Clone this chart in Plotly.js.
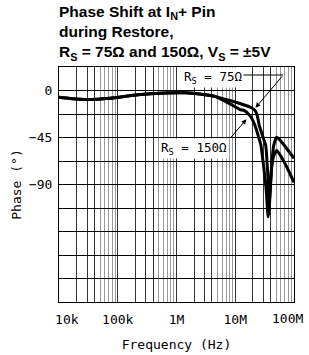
<!DOCTYPE html>
<html>
<head>
<meta charset="utf-8">
<script src="https://cdn.plot.ly/plotly-3.0.1.min.js"></script>
<style>html,body{margin:0;padding:0;background:#fff;}#chart{width:309px;height:355px;}</style>
</head>
<body>
<div id="chart"></div>
<script>
// Frequency (Hz) and phase (degrees)
const freq75   = [1e4, 1.54e4, 3e4, 7.4e4, 2.21e5, 6.37e5, 1.4e6, 2.8e6, 4.5e6, 8.15e6, 1.2e7, 1.78e7, 2.17e7, 2.37e7, 2.56e7, 3.3e7, 3.4e7, 3.68e7, 3.75e7, 3.9e7, 4.17e7, 4.5e7, 5.07e7, 5.7e7, 7.5e7, 1e8];
const phase75  = [-6.4, -7.6, -8.6, -7.4, -4.0, -2.4, -2.2, -3.8, -5.6, -9.6, -12.4, -15.8, -19, -24, -33.5, -52.6, -60, -93, -118, -100, -72, -53, -44.7, -47, -55.5, -65];
const freq150  = [1e4, 1.54e4, 3e4, 7.4e4, 2.21e5, 6.37e5, 1.4e6, 2.8e6, 4.5e6, 8.15e6, 1.2e7, 1.41e7, 1.78e7, 2.17e7, 2.74e7, 2.85e7, 3.34e7, 3.63e7, 3.9e7, 4.17e7, 4.5e7, 5.07e7, 5.7e7, 7.5e7, 1e8];
const phase150 = [-6.4, -7.6, -8.6, -7.4, -4.0, -2.4, -2.2, -3.8, -5.6, -12.8, -18.2, -19.1, -24, -33.5, -52.6, -60, -93, -121, -98, -73, -63, -57.4, -61, -73, -88];

const xMajorVals = [1e4, 2e4, 3e4, 4e4, 1e5, 2e5, 3e5, 4e5, 1e6, 2e6, 3e6, 4e6, 1e7, 2e7, 3e7, 4e7, 1e8];
const xMajorText = ['\u00a0\u00a010k', '', '', '', '100k', '', '', '', '1M', '', '', '', '10M', '', '', '', ''];
const xLastLabel = '100M';
const xMinorVals = [5e4,6e4,7e4,8e4,9e4, 5e5,6e5,7e5,8e5,9e5, 5e6,6e6,7e6,8e6,9e6, 5e7,6e7,7e7,8e7,9e7];
const yTickVals = [22.5, 0, -22.5, -45, -67.5, -90, -112.5, -135, -157.5, -180, -202.5];
const yTickText = ['', '0', '', '−45', '', '−90', '', '', '', '', ''];

const mono = 'DejaVu Sans Mono';

const traces = [
  {x: freq75, y: phase75, mode: 'lines', line: {color: '#000', width: 3, shape: 'spline', smoothing: 0.5}, hoverinfo: 'skip'},
  {x: freq150, y: phase150, mode: 'lines', line: {color: '#000', width: 3, shape: 'spline', smoothing: 0.5}, hoverinfo: 'skip'}
];

const layout = {
  width: 309, height: 355,
  margin: {l: 59, r: 15, t: 67, b: 53},
  paper_bgcolor: '#fff', plot_bgcolor: '#fff',
  showlegend: false,
  title: {
    text: 'Phase Shift at I<sub>N</sub>+ Pin<br>during Restore,<br>R<sub>S</sub> = 75Ω and 150Ω, V<sub>S</sub> = ±5V',
    font: {family: 'Liberation Sans, Arial, sans-serif', size: 15.5, color: '#000', weight: 700},
    x: 0, xref: 'paper', xanchor: 'left',
    y: 1 - 17/355, yref: 'container', yanchor: 'top'
  },
  xaxis: {
    type: 'log', range: [3.9999, 8.0001],
    tickmode: 'array', tickvals: xMajorVals, ticktext: xMajorText,
    ticks: 'outside', ticklen: 5, tickcolor: 'rgba(0,0,0,0)',
    tickfont: {family: mono, size: 13, color: '#000'},
    showgrid: true, gridcolor: '#333', gridwidth: 1,
    minor: {tickvals: xMinorVals, showgrid: true, gridcolor: '#999', gridwidth: 1, ticks: ''},
    showline: true, linecolor: '#000', linewidth: 1, mirror: true,
    zeroline: false,
    title: {text: 'Frequency (Hz)', font: {family: mono, size: 13, color: '#000'}, standoff: 14}
  },
  yaxis: {
    range: [-202.5, 22.5],
    tickmode: 'array', tickvals: yTickVals, ticktext: yTickText,
    ticks: 'outside', ticklen: 3, tickcolor: 'rgba(0,0,0,0)',
    tickfont: {family: mono, size: 13, color: '#000'},
    showgrid: true, gridcolor: '#000', gridwidth: 1,
    showline: true, linecolor: '#000', linewidth: 1, mirror: true,
    zeroline: false,
    title: {text: 'Phase (°)', font: {family: mono, size: 13, color: '#000'}, standoff: 4}
  },
  shapes: [
    {type: 'line', xref: 'paper', yref: 'paper', x0: (243-59)/235, x1: (283-59)/235, y0: (302-75)/235, y1: (302-75)/235, line: {color: '#000', width: 1}}
  ],
  annotations: [
    {x: (305-59)/235, y: (302-318)/235, xref: 'paper', yref: 'paper', xanchor: 'right', yanchor: 'middle',
     text: xLastLabel, showarrow: false, font: {family: mono, size: 13, color: '#000'}},
    {x: 6.613, y: 12.9, xref: 'x', yref: 'y', text: 'R<sub>S</sub> = 75Ω', showarrow: false, bgcolor: '#fff', borderpad: 1,
     font: {family: mono, size: 12.5, color: '#000'}},
    {x: 7.345, y: -16.5, xref: 'x', yref: 'y', text: '', showarrow: true, arrowhead: 2, arrowsize: 1, arrowwidth: 1, arrowcolor: '#000',
     ax: 28, ay: -33, axref: 'pixel', ayref: 'pixel'},
    {x: 6.298, y: -56, xref: 'x', yref: 'y', text: 'R<sub>S</sub> = 150Ω', showarrow: false, bgcolor: '#fff', borderpad: 1,
     font: {family: mono, size: 12.5, color: '#000'}},
    {x: 7.19, y: -27.5, xref: 'x', yref: 'y', text: '', showarrow: true, arrowhead: 2, arrowsize: 1, arrowwidth: 1, arrowcolor: '#000',
     ax: -17, ay: 20, axref: 'pixel', ayref: 'pixel'}
  ]
};

Plotly.newPlot('chart', traces, layout, {staticPlot: true, displayModeBar: false});
</script>
</body>
</html>
